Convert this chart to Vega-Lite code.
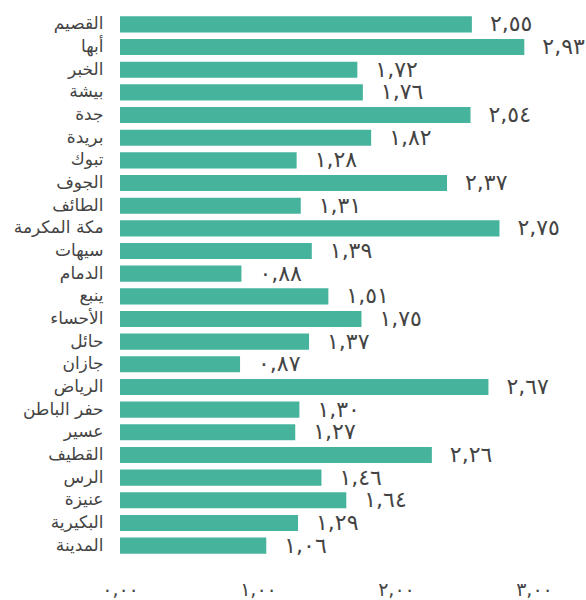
{
  "$schema": "https://vega.github.io/schema/vega-lite/v6.json",
  "autosize": "none",
  "width": 466,
  "height": 560,
  "padding": {"left": 120, "top": 5, "right": 0, "bottom": 35},
  "config": {
    "view": {"stroke": null},
    "font": "DejaVu Sans",
    "locale": {
      "number": {
        "decimal": ",",
        "thousands": ".",
        "grouping": [3],
        "currency": ["", ""],
        "numerals": ["٠", "١", "٢", "٣", "٤", "٥", "٦", "٧", "٨", "٩"]
      }
    }
  },
  "data": {
    "values": [
      {"city": "القصيم", "value": 2.55},
      {"city": "أبها", "value": 2.93},
      {"city": "الخبر", "value": 1.72},
      {"city": "بيشة", "value": 1.76},
      {"city": "جدة", "value": 2.54},
      {"city": "بريدة", "value": 1.82},
      {"city": "تبوك", "value": 1.28},
      {"city": "الجوف", "value": 2.37},
      {"city": "الطائف", "value": 1.31},
      {"city": "مكة المكرمة", "value": 2.75},
      {"city": "سيهات", "value": 1.39},
      {"city": "الدمام", "value": 0.88},
      {"city": "ينبع", "value": 1.51},
      {"city": "الأحساء", "value": 1.75},
      {"city": "حائل", "value": 1.37},
      {"city": "جازان", "value": 0.87},
      {"city": "الرياض", "value": 2.67},
      {"city": "حفر الباطن", "value": 1.30},
      {"city": "عسير", "value": 1.27},
      {"city": "القطيف", "value": 2.26},
      {"city": "الرس", "value": 1.46},
      {"city": "عنيزة", "value": 1.64},
      {"city": "البكيرية", "value": 1.29},
      {"city": "المدينة", "value": 1.06}
    ]
  },
  "encoding": {
    "y": {
      "field": "city",
      "type": "nominal",
      "sort": null,
      "scale": {"paddingInner": 0.29, "paddingOuter": 0.5},
      "axis": {
        "title": null,
        "ticks": false,
        "domain": false,
        "labelPadding": 17,
        "labelFontSize": 17,
        "labelColor": "#444444",
        "labelFont": "DejaVu Sans"
      }
    },
    "x": {
      "field": "value",
      "type": "quantitative",
      "scale": {"domain": [0, 3.377], "nice": false},
      "axis": {
        "title": null,
        "values": [0, 1, 2, 3],
        "format": ".2f",
        "grid": false,
        "ticks": false,
        "domain": false,
        "labelPadding": 15,
        "labelFontSize": 19,
        "labelColor": "#444444",
        "labelDx": -8,
        "labelFlush": false
      }
    }
  },
  "layer": [
    {"mark": {"type": "bar", "color": "#46b39d"}},
    {
      "mark": {"type": "text", "align": "left", "dx": 18, "fontSize": 22, "color": "#444444", "baseline": "middle"},
      "encoding": {"text": {"field": "value", "type": "quantitative", "format": ".2f"}}
    }
  ]
}
